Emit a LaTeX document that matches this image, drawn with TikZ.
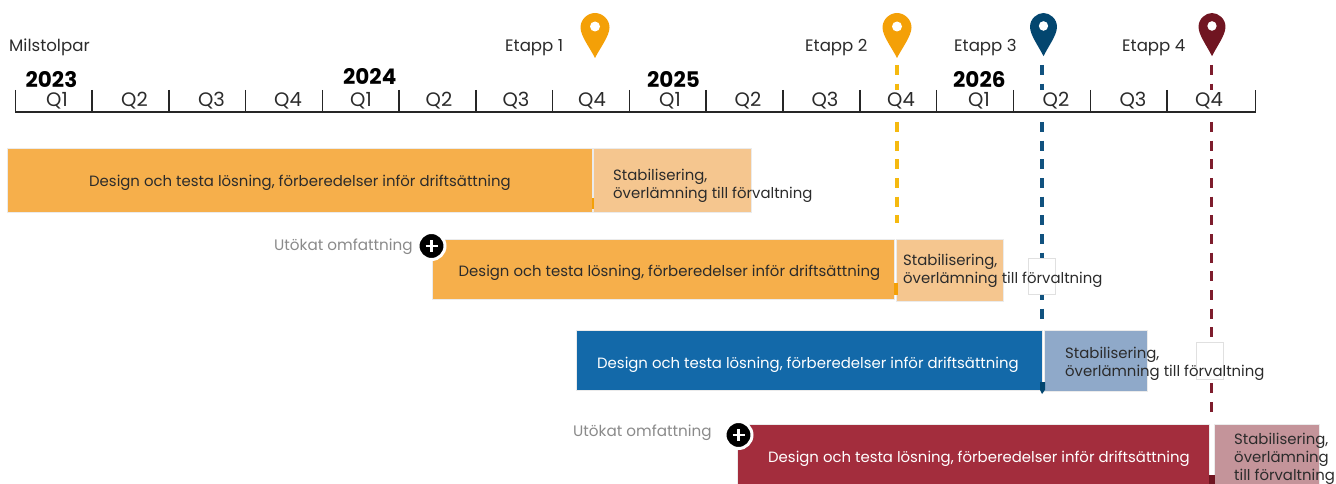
\documentclass[tikz,border=0pt]{standalone}
\usepackage{fontspec}
\setmainfont{Poppins}
\definecolor{txt}{HTML}{2B2B2B}
\definecolor{greytxt}{HTML}{8A8A8A}
\definecolor{oa}{HTML}{F6AF4B}\definecolor{ob}{HTML}{F5C68F}
\definecolor{ba}{HTML}{1369A9}\definecolor{bb}{HTML}{8FA9C9}
\definecolor{ra}{HTML}{A32D3D}\definecolor{rb}{HTML}{C4949A}
\definecolor{pino}{HTML}{F4A007}\definecolor{pinb}{HTML}{03466F}\definecolor{pinr}{HTML}{701521}
\definecolor{dasho}{HTML}{F5B90F}\definecolor{dashb}{HTML}{11527F}\definecolor{dashr}{HTML}{7E1D2D}
\tikzset{
  x=1pt,y=-1pt,
  lab/.style={font=\fontsize{16.6}{18}\selectfont,text=txt,inner sep=0pt,anchor=base west},
  grey/.style={lab,font=\fontsize{15.2}{18}\selectfont,text=greytxt},
  bartext/.style={font=\fontsize{14.9}{18}\selectfont,inner sep=0pt,anchor=base west,align=left},
  year/.style={font=\bfseries\fontsize{21.5}{24}\selectfont,text=black,inner sep=0pt,anchor=base west},
  quarter/.style={font=\fontsize{19.5}{22}\selectfont,text=txt,inner sep=0pt,anchor=base},
  tick/.style={line width=1.7pt,draw=black!85},
  milestone/.style={line width=3.2pt,dash pattern=on 10pt off 8.67pt},
  whitebox/.style={draw=black!12,fill=white,line width=.6pt},
  plusdisc/.style={circle,fill=black,draw=white,line width=3pt,minimum size=27pt,inner sep=0pt},
  pin/.pic={
    \fill[#1] (-14.5,14.5) .. controls (-14.5,6) and (-7,0) .. (0,0)
      .. controls (7,0) and (14.5,6) .. (14.5,14.5)
      .. controls (14.5,23) and (5,35) .. (0,45)
      .. controls (-5,35) and (-14.5,23) .. (-14.5,14.5) -- cycle;
    \fill[white] (0,13.5) circle (5);
  },
}
\begin{document}
\begin{tikzpicture}
\useasboundingbox (0,0) rectangle (1336,484);
% milestone anchors
\coordinate (m1a) at (897,65); \coordinate (m1b) at (897,90);
\coordinate (m1c) at (897,122); \coordinate (m1d) at (897,223);
\coordinate (m2a) at (1042,65); \coordinate (m2b) at (1042,90);
\coordinate (m2c) at (1042,122); \coordinate (m2d) at (1042,320);
\coordinate (m3a) at (1211.5,65); \coordinate (m3b) at (1211.5,90);
\coordinate (m3c) at (1211.5,122); \coordinate (m3d) at (1211.5,415);
\draw[milestone,draw=dasho] (m1a) -- (m1b);
\draw[milestone,draw=dasho] (m1c) -- (m1d);
\draw[milestone,draw=dashb] (m2a) -- (m2b);
\draw[milestone,draw=dashb] (m2c) -- (m2d);
\draw[milestone,draw=dashr] (m3a) -- (m3b);
\draw[milestone,draw=dashr] (m3c) -- (m3d);
% pins
\pic at (595,13) {pin=pino};
\pic at (897,13) {pin=pino};
\pic[yscale=.96,xscale=.93] at (1043.5,13) {pin=pinb};
\pic[yscale=.96,xscale=.93] at (1212,13) {pin=pinr};
% labels
\node[lab] (milstolpar) at (9,51.5) {Milstolpar};
\node[lab] (etapp1) at (505,51.5) {Etapp 1};
\node[lab] (etapp2) at (805,51.5) {Etapp 2};
\node[lab] (etapp3) at (954,51.5) {Etapp 3};
\node[lab] (etapp4) at (1122,51.5) {Etapp 4};
% axis
\draw[tick] (15.5,90) -- (15.5,112) -- (1255.5,112) -- (1255.5,90);
\foreach \x in {92,169,245.5,322.5,399,476,552.5,629.5,706,783,860,936.5,1013.5,1090.5,1167}
  \draw[tick] (\x,90) -- (\x,112);
\foreach \x/\q [count=\i] in {57/Q1,134.5/Q2,211.5/Q3,288/Q4,361/Q1,439/Q2,516/Q3,592/Q4,670/Q1,748/Q2,825/Q3,901/Q4,979/Q1,1056/Q2,1133/Q3,1209/Q4}
  \node[quarter] (q\i) at (\x,106.5) {\q};
\node[year] (y23) at (25.5,87.5) {2023};
\node[year] (y24) at (343,84.5) {2024};
\node[year] (y25) at (647,87.5) {2025};
\node[year] (y26) at (953,87.5) {2026};
% bars row 1
\path[fill=oa,draw=black!8,line width=.5pt] (7,148.5) rectangle (592,212);
\path[fill=ob,draw=black!8,line width=.5pt] (593.5,148.5) rectangle (751,212);
\fill[pino] (592,198) rectangle (594,209);
\node[bartext,text=txt] (d1) at (89,186.5) {Design och testa lösning, förberedelser inför driftsättning};
\node[bartext,text=txt] (s1) at (613,198) {Stabilisering,\\överlämning till förvaltning};
% row 2
\path[fill=oa,draw=black!8,line width=.5pt] (432.5,239.5) rectangle (894,299);
\path[fill=ob,draw=black!8,line width=.5pt] (896.5,239) rectangle (1003,301);
\fill[pino] (894,283) rectangle (897.5,295);
\draw[whitebox] (1028.5,258) rectangle (1055.5,294);
\node[bartext,text=txt] (d2) at (458.5,276) {Design och testa lösning, förberedelser inför driftsättning};
\node[bartext,text=txt] (s2) at (903,283) {Stabilisering,\\överlämning till förvaltning};
\node[grey] (u1) at (274,250) {Utökat omfattning};
\node[plusdisc] (plus1) at (431.5,246) {};
\draw[white,line width=2.4pt] (plus1.center) ++(-6,0) -- ++(12,0) (plus1.center) ++(0,-6) -- ++(0,12);
% row 3
\path[fill=ba,draw=black!8,line width=.5pt] (576.5,330.5) rectangle (1042,390);
\path[fill=bb,draw=black!8,line width=.5pt] (1044,330.5) rectangle (1147,391);
\fill[pinb] (1040,382) -- (1045,382) -- (1045,390) -- (1042,394) -- (1040,390) -- cycle;
\draw[whitebox] (1196.5,342.5) rectangle (1223.5,379.5);
\node[bartext,text=white] (d3) at (597,368.5) {Design och testa lösning, förberedelser inför driftsättning};
\node[bartext,text=txt] (s3) at (1065,376) {Stabilisering,\\överlämning till förvaltning};
% row 4
\path[fill=ra,draw=black!8,line width=.5pt] (737.5,424.5) rectangle (1209,484);
\path[fill=rb,draw=black!8,line width=.5pt] (1214,424.5) rectangle (1319,484);
\fill[pinr] (1209,475) rectangle (1214.5,484);
\node[bartext,text=white] (d4) at (768,462) {Design och testa lösning, förberedelser inför driftsättning};
\node[bartext,text=txt] (s4) at (1234,480.5) {Stabilisering,\\överlämning\\till förvaltning};
\node[grey] (u2) at (573,436) {Utökat omfattning};
\node[plusdisc] (plus2) at (738.5,435) {};
\draw[white,line width=2.4pt] (plus2.center) ++(-6,0) -- ++(12,0) (plus2.center) ++(0,-6) -- ++(0,12);
\end{tikzpicture}
\end{document}
